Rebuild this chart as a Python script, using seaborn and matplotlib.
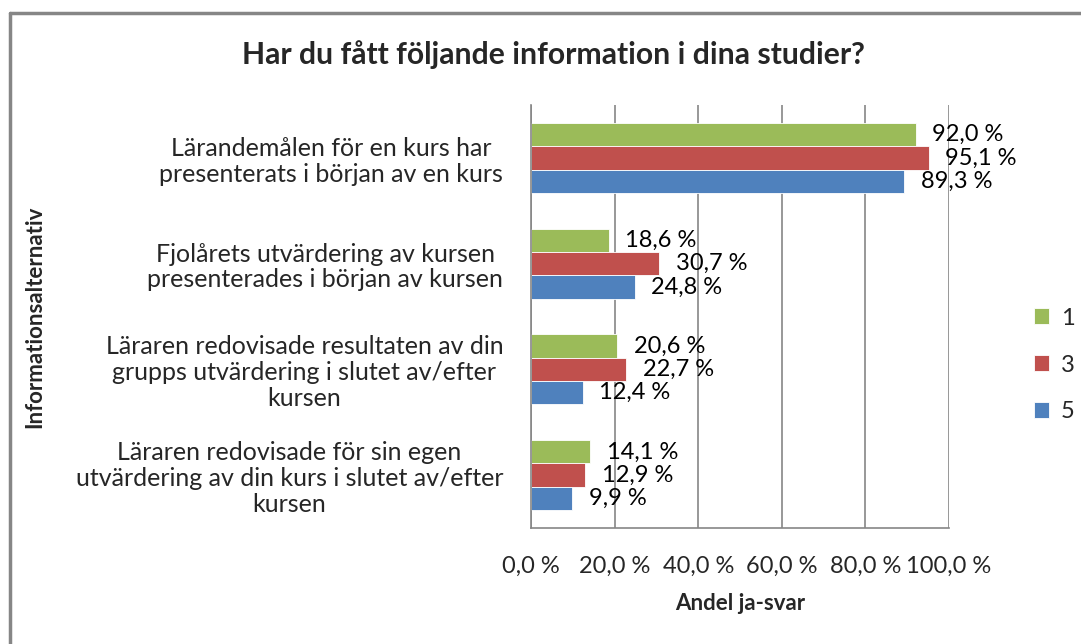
import matplotlib
matplotlib.use("Agg")
import matplotlib.pyplot as plt
import seaborn as sns
import pandas as pd
from matplotlib.lines import Line2D

categories = [
    "Lärandemålen för en kurs har\npresenterats i början av en kurs",
    "Fjolårets utvärdering av kursen\npresenterades i början av kursen",
    "Läraren redovisade resultaten av din\ngrupps utvärdering i slutet av/efter\nkursen",
    "Läraren redovisade för sin egen\nutvärdering av din kurs i slutet av/efter\nkursen",
]
series_names = ["1", "3", "5"]
values_1 = [92.0, 18.6, 20.6, 14.1]
values_3 = [95.1, 30.7, 22.7, 12.9]
values_5 = [89.3, 24.8, 12.4, 9.9]
x_ticks = [0, 20, 40, 60, 80, 100]

colors = ["#9BBB59", "#C0504D", "#4F81BD"]

rows = []
for name, vals in zip(series_names, [values_1, values_3, values_5]):
    for c, v in zip(categories, vals):
        rows.append({"cat": c, "serie": name, "val": v})
df = pd.DataFrame(rows)

sns.set_style("white")
plt.rcParams["font.family"] = ["Lato", "DejaVu Sans"]

W, H = 1081, 644
fig = plt.figure(figsize=(W / 100, H / 100), dpi=100)
ax = fig.add_axes([531 / W, 1 - 528 / H, (949 - 531) / W, (528 - 105) / H])

sns.barplot(data=df, x="val", y="cat", hue="serie", order=categories,
            hue_order=series_names, palette=colors, orient="h",
            width=0.66, ax=ax, edgecolor="white", linewidth=0.6,
            saturation=1)

vals_by_name = dict(zip(series_names, [values_1, values_3, values_5]))
for cont, name in zip(ax.containers, series_names):
    vals = vals_by_name[name]
    ax.bar_label(cont, labels=[f"{v:.1f} %".replace(".", ",") for v in vals],
                 padding=12, fontsize=17, color="black")

ax.set_xlim(0, 100)
ax.set_ylim(3.5, -0.5)
ax.set_xticks(x_ticks)
ax.set_xticklabels([f"{t:.1f} %".replace(".", ",") for t in x_ticks], fontsize=17)
ax.set_yticks(range(len(categories)))
ax.set_yticklabels(categories, fontsize=18, multialignment="center", linespacing=1.15)
ax.set_yticks([i - 0.5 for i in range(len(categories) + 1)], minor=True)
ax.tick_params(axis="y", which="major", length=0, pad=20)
ax.tick_params(axis="y", which="minor", length=9, width=1.2, color="#868686", direction="out")
ax.tick_params(axis="x", which="major", length=7, width=1.2, color="#868686", pad=13, direction="out")
ax.xaxis.grid(True, color="#868686", linewidth=1.2)
ax.yaxis.grid(False)
ax.set_axisbelow(True)
for s in ["top", "right"]:
    ax.spines[s].set_visible(False)
for s in ["left", "bottom"]:
    ax.spines[s].set_color("#868686")
    ax.spines[s].set_linewidth(1.2)

ax.set_xlabel("Andel ja-svar", fontsize=16, fontweight="bold", labelpad=12)
ax.set_ylabel("")
fig.text(35 / W, 1 - 317 / H, "Informationsalternativ", rotation=90,
         fontsize=16, fontweight="bold", ha="center", va="center")

fig.text(553 / W, 1 - 55 / H, "Har du fått följande information i dina studier?",
         fontsize=21.7, fontweight="bold", ha="center", va="center")

handles, labels = ax.get_legend_handles_labels()
ax.legend(handles, labels, loc="center left",
          bbox_to_anchor=(1034 / W, 1 - 365 / H), bbox_transform=fig.transFigure,
          frameon=False, fontsize=17, handlelength=0.65, handleheight=0.65,
          labelspacing=1.1, handletextpad=0.5, borderpad=0, borderaxespad=0)

fig.add_artist(Line2D([9.5 / W, 9.5 / W], [0, 1 - 13 / H], transform=fig.transFigure,
                      color="#868686", linewidth=2.5))
fig.add_artist(Line2D([9.5 / W, 1], [1 - 13 / H, 1 - 13 / H], transform=fig.transFigure,
                      color="#868686", linewidth=2.5))

fig.savefig("out.png", dpi=100)
